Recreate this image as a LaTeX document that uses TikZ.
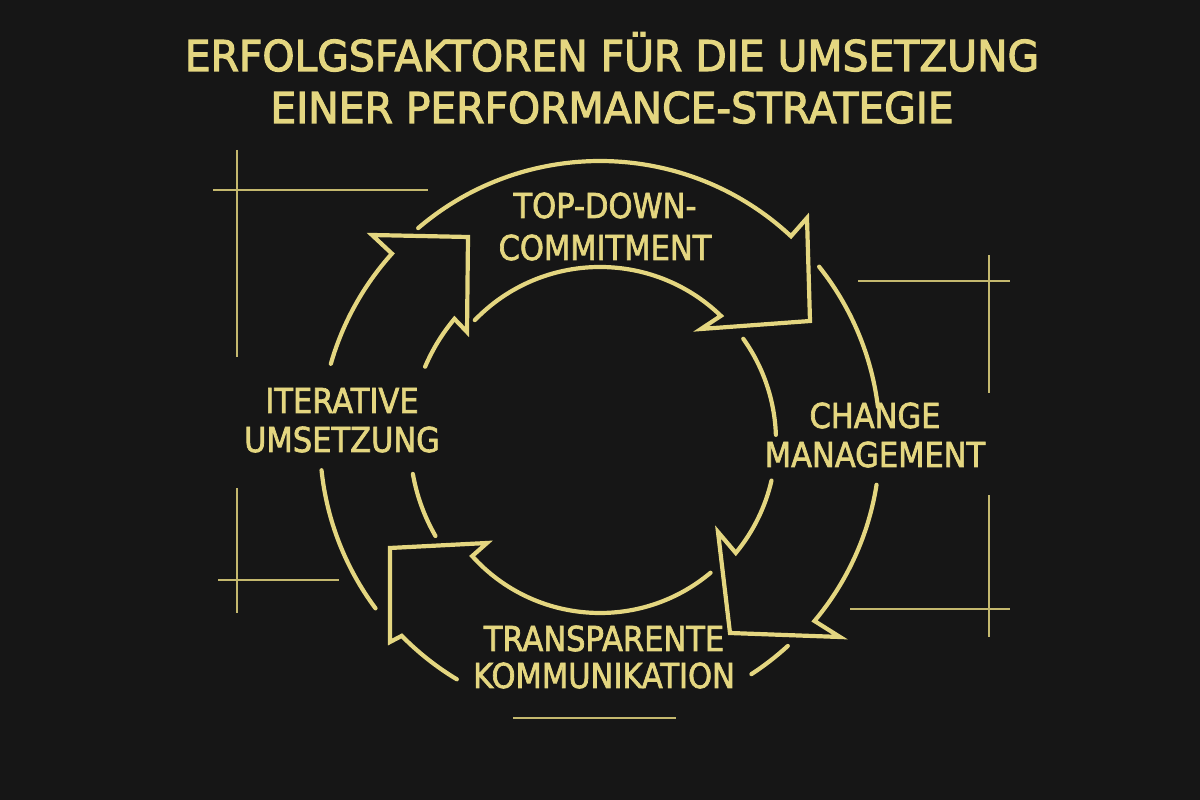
\documentclass[tikz,border=0pt]{standalone}
\usepackage{fontspec}
\newfontfamily\titlefont[FakeStretch=0.96,FakeBold=2.6]{DejaVu Sans}
\newfontfamily\labelfont[FakeStretch=0.89,FakeBold=2.0]{DejaVu Sans}
\definecolor{bg}{RGB}{22,22,22}
\definecolor{gold}{RGB}{228,214,128}
\definecolor{sketch}{RGB}{196,184,110}
\begin{document}
\begin{tikzpicture}[x=1pt,y=1pt,
  arrowline/.style={draw=gold, line width=4.2pt, line cap=round, line join=miter},
  sketchline/.style={draw=sketch, line width=1.8pt},
  lbl/.style={text=gold, font=\labelfont\fontsize{34.3}{40}\selectfont, align=center, anchor=base, inner sep=0pt},
  ttl/.style={text=gold, font=\titlefont\fontsize{42.5}{52}\selectfont, align=center, anchor=base, inner sep=0pt}]
\fill[bg] (0,0) rectangle (1200,800);
\useasboundingbox (0,0) rectangle (1200,800);

% centre of the cycle and arrowhead corners
\coordinate (O) at (600,359);
\coordinate (tbo) at (807,582);
\coordinate (tc)  at (810,479);
\coordinate (tbi) at (701,471);
\coordinate (rbo) at (840,163);
\coordinate (rc)  at (730,167);
\coordinate (rbi) at (718,268);
\coordinate (bbo) at (390,158);
\coordinate (bc)  at (390,252);
\coordinate (bbi) at (487,257);
\coordinate (lbo) at (372,565);
\coordinate (lc)  at (468,563);
\coordinate (lbi) at (467,468);

\begin{scope}[shift={(O)}]
  % top arrow
  \draw[arrowline] (130.5:280) arc[start angle=130.5,end angle=47,radius=280]
    -- (tbo) -- (tc) -- (tbi) -- (46:174) arc[start angle=46,end angle=136,radius=174];
  % right arrow
  \draw[arrowline] (38.5:280) arc[start angle=38.5,end angle=7,radius=280];
  \draw[arrowline] (-9:280) arc[start angle=-9,end angle=-40,radius=280]
    -- (rbo) -- (rc) -- (rbi) -- (-39.5:176) arc[start angle=-39.5,end angle=-13,radius=176];
  \draw[arrowline] (2:176) arc[start angle=2,end angle=35.5,radius=176];
  % bottom arrow
  \draw[arrowline] (-47.5:278) arc[start angle=-47.5,end angle=-57,radius=278];
  \draw[arrowline] (-121:278) arc[start angle=-121,end angle=-135.5,radius=278]
    -- (bbo) -- (bc) -- (bbi) -- (-138:172) arc[start angle=-138,end angle=-50,radius=172];
  % left arrow
  \draw[arrowline] (216.7:280) arc[start angle=216.7,end angle=186,radius=280];
  \draw[arrowline] (164:280) arc[start angle=164,end angle=138,radius=280]
    -- (lbo) -- (lc) -- (lbi) -- (140:190) arc[start angle=140,end angle=157,radius=190];
  \draw[arrowline] (190:190) arc[start angle=190,end angle=210,radius=190];
\end{scope}

% sketch lines
\draw[sketchline] (213,610) -- (428,610);
\draw[sketchline] (237,650) -- (237,443);
\draw[sketchline] (858,519) -- (1010,519);
\draw[sketchline] (989,545) -- (989,407);
\draw[sketchline] (850,191) -- (1010,191);
\draw[sketchline] (989,305) -- (989,163);
\draw[sketchline] (218,220) -- (339,220);
\draw[sketchline] (237,312) -- (237,187);
\draw[sketchline] (513,82) -- (676,82);

% texts (base anchor = baseline of the last line)
\node[ttl] (title) at (612,677) {ERFOLGSFAKTOREN FÜR DIE UMSETZUNG\\EINER PERFORMANCE-STRATEGIE};
\node[lbl] (top) at (605,540) {TOP-DOWN-\\[2pt]COMMITMENT};
\node[lbl] (right) at (875,333) {CHANGE\\[-1pt]MANAGEMENT};
\node[lbl] (left) at (342,348) {ITERATIVE\\[-1pt]UMSETZUNG};
\node[lbl] (bottom) at (604,112) {TRANSPARENTE\\[-3pt]KOMMUNIKATION};
\end{tikzpicture}
\end{document}
